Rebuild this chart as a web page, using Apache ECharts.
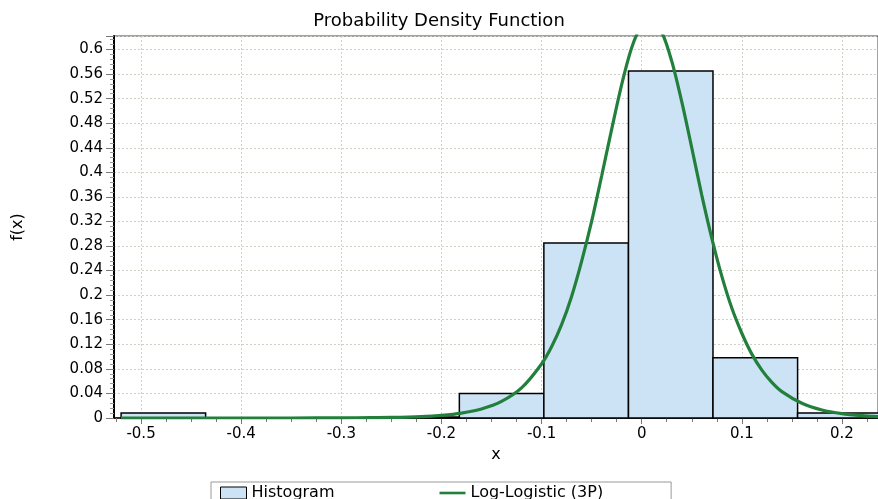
<!DOCTYPE html>
<html>
<head>
<meta charset="utf-8">
<script src="https://cdn.jsdelivr.net/npm/echarts@6/dist/echarts.min.js"></script>
<style>
  html, body { margin: 0; padding: 0; background: #fff; }
  #chart { width: 878px; height: 499px; }
</style>
</head>
<body>
<div id="chart"></div>
<script>
// histogram bins (left/right edges) and heights
var binLeft = [-0.5199, -0.4355, -0.3510, -0.2666, -0.1821, -0.0977, -0.0132, 0.0712, 0.1557];
var binRight = [-0.4355, -0.3510, -0.2666, -0.1821, -0.0977, -0.0132, 0.0712, 0.1557, 0.2402];
var binHeight = [0.008, 0, 0, 0.0015, 0.040, 0.285, 0.565, 0.098, 0.008];

// fitted Log-Logistic (3P) curve
var curveX = [-0.52, -0.45, -0.40, -0.35, -0.30, -0.27, -0.25, -0.22, -0.20, -0.18, -0.16, -0.14, -0.12, -0.10, -0.09, -0.08, -0.07, -0.06, -0.05, -0.04, -0.03, -0.02, -0.01, 0.0, 0.008, 0.02, 0.03, 0.04, 0.05, 0.06, 0.07, 0.08, 0.09, 0.10, 0.11, 0.12, 0.13, 0.14, 0.16, 0.18, 0.20, 0.22, 0.236];
var curveY = [0, 0, 0, 0, 0.0002, 0.0006, 0.0009, 0.0023, 0.0043, 0.008, 0.0147, 0.027, 0.049, 0.088, 0.116, 0.152, 0.198, 0.255, 0.32, 0.394, 0.47, 0.543, 0.603, 0.64, 0.65, 0.628, 0.581, 0.515, 0.44, 0.363, 0.293, 0.231, 0.179, 0.138, 0.104, 0.078, 0.058, 0.043, 0.024, 0.013, 0.007, 0.0038, 0.0023];

// axis ticks
var xTicks = [-0.5, -0.4, -0.3, -0.2, -0.1, 0, 0.1, 0.2];
var xMinorTicks = [-0.525, -0.475, -0.45, -0.425, -0.375, -0.35, -0.325, -0.275, -0.25, -0.225, -0.175, -0.15, -0.125, -0.075, -0.05, -0.025, 0.025, 0.05, 0.075, 0.125, 0.15, 0.175, 0.225];

var xMin = -0.527, xMax = 0.236, yMin = 0, yMax = 0.622;

var histData = [];
for (var i = 0; i < binLeft.length; i++) {
  if (binHeight[i] > 0) histData.push([binLeft[i], binRight[i], binHeight[i]]);
}
var curveData = curveX.map(function (x, i) { return [x, curveY[i]]; });

var font = 'DejaVu Sans';
var gridColor = '#cfcfc6';
var green = '#23803c';
var myChart = echarts.init(document.getElementById('chart'));
myChart.setOption({
  animation: false,
  title: {
    text: 'Probability Density Function',
    left: 'center',
    top: 7,
    textStyle: { fontFamily: font, fontSize: 18, fontWeight: 'normal', color: '#000' }
  },
  grid: {
    left: 114, right: 0, top: 36, bottom: 81,
    show: true, borderColor: '#444', borderWidth: 1
  },
  legend: {
    left: 211, top: 482,
    padding: [3, 68, 3, 9],
    borderColor: '#999', borderWidth: 1,
    itemGap: 105, itemWidth: 26, itemHeight: 12,
    textStyle: { fontFamily: font, fontSize: 16, color: '#000' },
    data: [
      { name: 'Histogram', icon: 'rect', itemStyle: { color: '#cce3f5', borderColor: '#000', borderWidth: 1 } },
      { name: 'Log-Logistic (3P)', icon: 'path://M0,0 H30 V3 H0 Z', itemStyle: { color: green } }
    ]
  },
  xAxis: [
    {
      type: 'value',
      min: xMin, max: xMax,
      name: 'x', nameLocation: 'middle', nameGap: 29,
      nameTextStyle: { fontFamily: font, fontSize: 16, color: '#000' },
      axisLine: { onZero: false, lineStyle: { color: '#000', width: 1.5 } },
      axisTick: { show: true, length: 6, customValues: xTicks, lineStyle: { color: '#777' } },
      axisLabel: { customValues: xTicks, margin: 9, fontFamily: font, fontSize: 15, color: '#000' },
      splitLine: { show: true, lineStyle: { color: gridColor, type: [2, 2] } }
    },
    {
      type: 'value',
      position: 'bottom',
      min: xMin, max: xMax,
      axisLine: { show: false, onZero: false },
      axisTick: { show: true, length: 4, customValues: xMinorTicks, lineStyle: { color: '#777' } },
      axisLabel: { show: false },
      splitLine: { show: false }
    }
  ],
  yAxis: {
    type: 'value',
    min: yMin, max: yMax, interval: 0.04,
    name: 'f(x)', nameLocation: 'middle', nameGap: 88,
    nameTextStyle: { fontFamily: font, fontSize: 16, color: '#000' },
    axisLine: { show: true, onZero: false, lineStyle: { color: '#000', width: 2 } },
    axisTick: { show: true, length: 8, lineStyle: { color: '#777' } },
    minorTick: { show: true, splitNumber: 5, length: 4, lineStyle: { color: '#999' } },
    axisLabel: { showMaxLabel: false, margin: 11, fontFamily: font, fontSize: 15, color: '#000' },
    splitLine: { show: true, lineStyle: { color: gridColor, type: [2, 2] } }
  },
  series: [
    {
      name: 'Histogram',
      type: 'custom',
      itemStyle: { color: '#cce3f5' },
      encode: { x: [0, 1], y: 2 },
      data: histData,
      renderItem: function (params, api) {
        var p0 = api.coord([api.value(0), api.value(2)]);
        var p1 = api.coord([api.value(1), 0]);
        return {
          type: 'rect',
          shape: { x: p0[0], y: p0[1], width: p1[0] - p0[0], height: p1[1] - p0[1] },
          style: { fill: '#cce3f5', stroke: '#000', lineWidth: 1.5 }
        };
      }
    },
    {
      name: 'Log-Logistic (3P)',
      type: 'line',
      data: curveData,
      smooth: 0.3,
      symbol: 'none',
      showSymbol: false,
      clip: true,
      lineStyle: { color: green, width: 3.2 },
      itemStyle: { color: green },
      z: 5
    }
  ]
});
</script>
</body>
</html>
